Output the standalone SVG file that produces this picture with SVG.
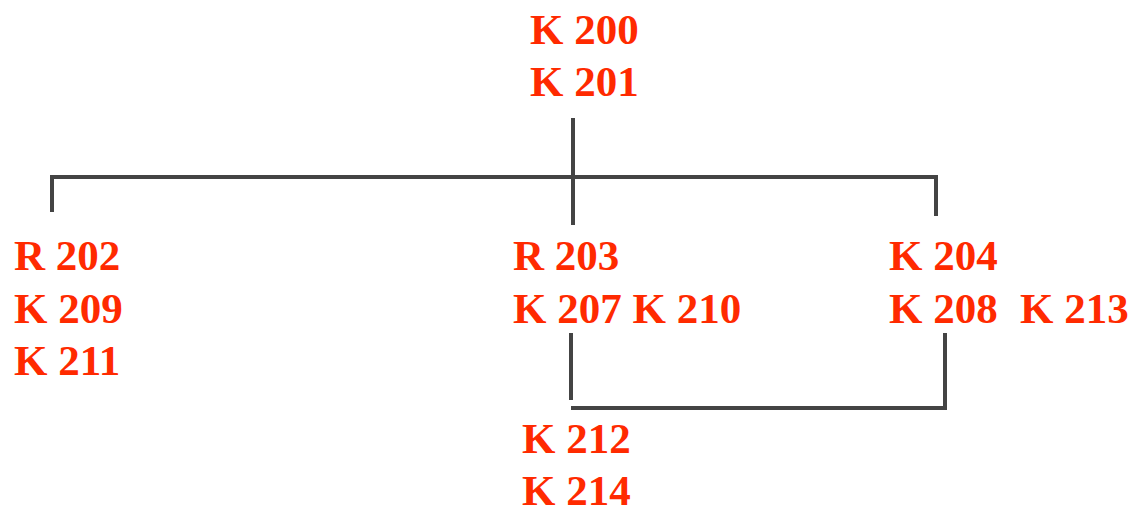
<svg xmlns="http://www.w3.org/2000/svg" width="1141" height="516" viewBox="0 0 1141 516">
<style>
.t{font-family:"Liberation Serif","DejaVu Serif",serif;font-weight:bold;font-size:43px;fill:#ff2a00}
.c{fill:none;stroke:#444;stroke-width:4;stroke-linecap:butt;stroke-linejoin:miter}
</style>
<rect width="1141" height="516" fill="#fff"/>
<g id="connectors">
<path class="c" d="M573 118V225"/>
<path class="c" d="M52 212V177H936V216"/>
<path class="c" d="M571 333V400"/>
<path class="c" d="M571 408H945V333"/>
</g>
<g id="n200"><text class="t" x="530" y="44">K 200</text><text class="t" x="530" y="96">K 201</text></g>
<g id="n202"><text class="t" x="14" y="270">R 202</text><text class="t" x="14" y="323">K 209</text><text class="t" x="14" y="375">K 211</text></g>
<g id="n203"><text class="t" x="513" y="270">R 203</text><text class="t" x="513" y="323">K 207 K 210</text></g>
<g id="n204"><text class="t" x="889" y="270">K 204</text><text class="t" x="889" y="323">K 208</text><text class="t" x="1020" y="323">K 213</text></g>
<g id="n212"><text class="t" x="522" y="453">K 212</text><text class="t" x="522" y="505">K 214</text></g>
</svg>
